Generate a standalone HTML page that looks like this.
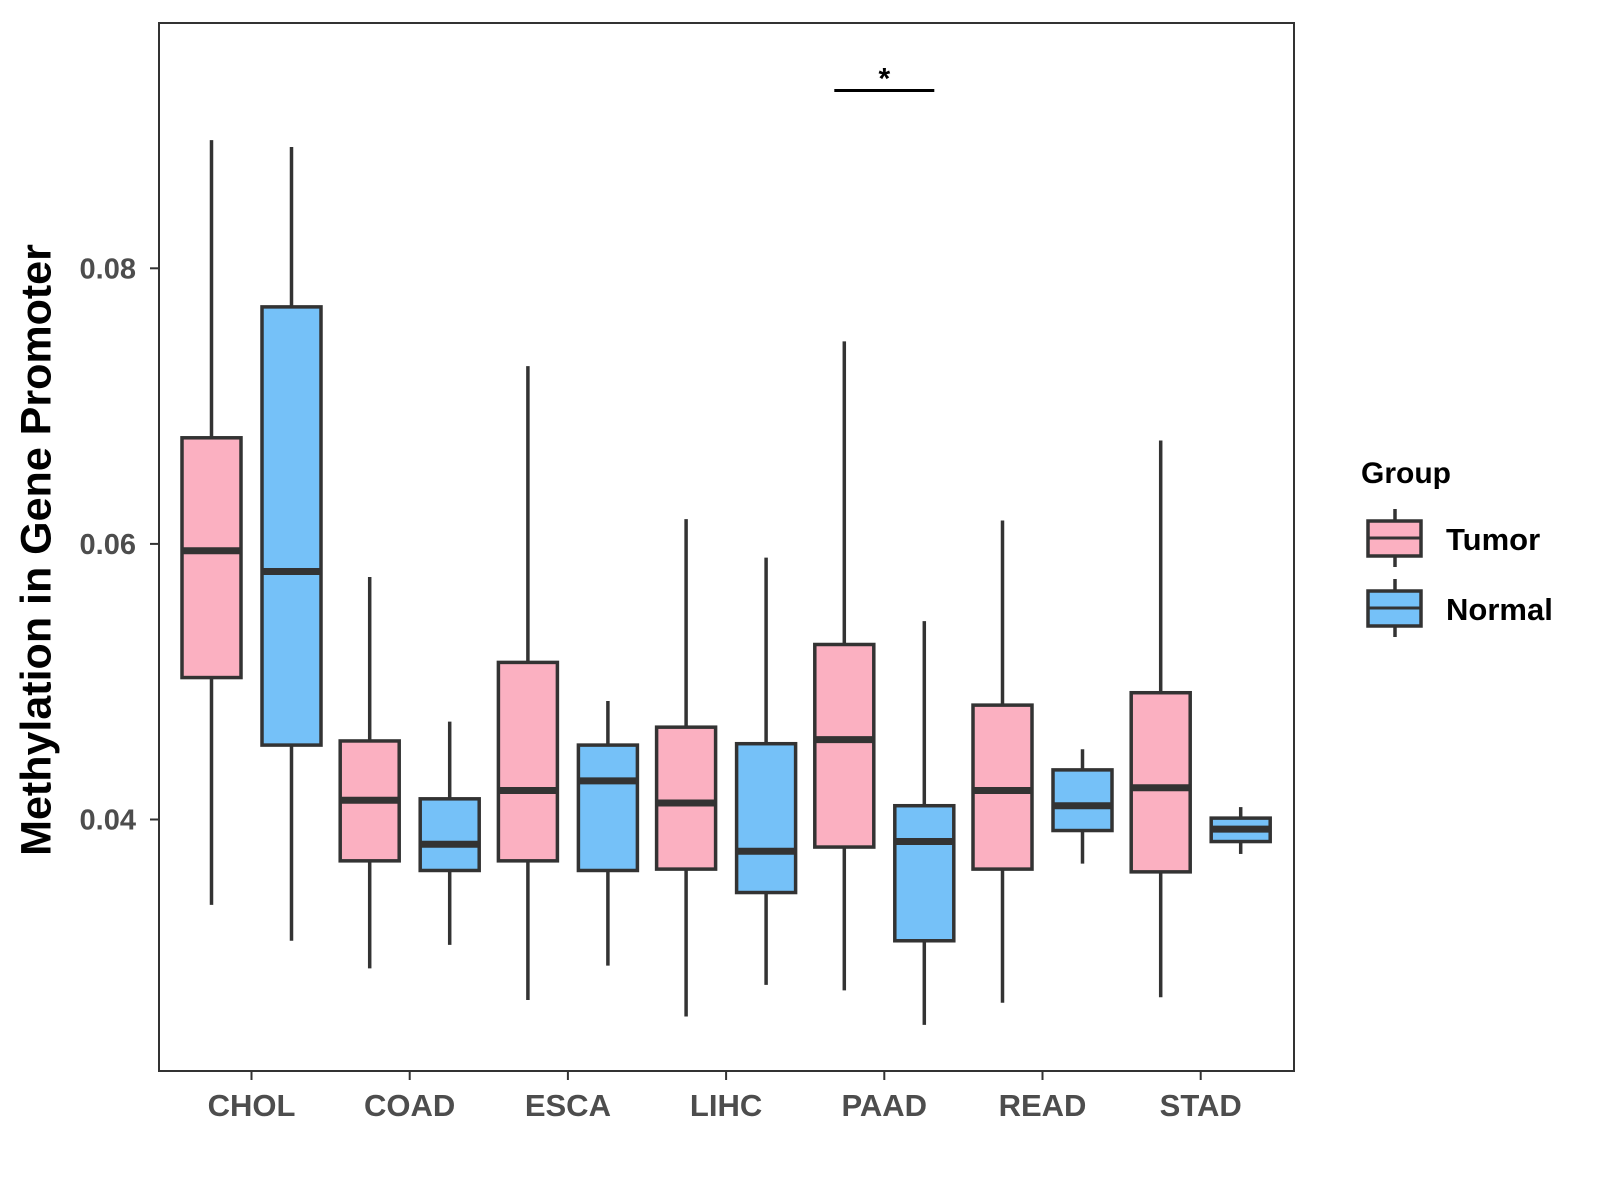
<!DOCTYPE html>
<html><head><meta charset="utf-8"><style>
body{margin:0;background:#fff}
svg{display:block;font-family:"Liberation Sans",Arial,sans-serif;font-weight:bold}
</style></head><body>
<svg id="chart" width="1600" height="1200" viewBox="0 0 1600 1200">
<rect x="0" y="0" width="1600" height="1200" fill="#fff"/>
<rect x="159" y="23" width="1135" height="1048" fill="none" stroke="#333" stroke-width="2"/>
<g id="yaxis"></g>
<g id="xaxis"></g>
<g id="boxes"></g>
<text x="39" y="550" font-size="43" fill="#000" text-anchor="middle" transform="rotate(-90 39 550)" dominant-baseline="middle">Methylation in Gene Promoter</text>
<g>
<line id="sigline" stroke="#000" stroke-width="3"/>
<text id="sigstar" font-size="30" text-anchor="middle" fill="#000">*</text>
</g>
<g transform="translate(-7,-1)">
<text x="1368" y="484" font-size="30" fill="#000">Group</text>
<g>
<line x1="1402" y1="510" x2="1402" y2="568" stroke="#333" stroke-width="3.5"/>
<rect x="1375" y="522" width="53" height="35" fill="#FBB0C1" stroke="#333" stroke-width="3.5"/>
<line x1="1375" y1="539" x2="1428" y2="539" stroke="#333" stroke-width="3"/>
<text x="1453" y="551" font-size="31" fill="#000">Tumor</text>
</g>
<g>
<line x1="1402" y1="580" x2="1402" y2="638" stroke="#333" stroke-width="3.5"/>
<rect x="1375" y="592" width="53" height="35" fill="#75C1F8" stroke="#333" stroke-width="3.5"/>
<line x1="1375" y1="609" x2="1428" y2="609" stroke="#333" stroke-width="3"/>
<text x="1453" y="621" font-size="31" fill="#000">Normal</text>
</g>
</g>
</svg>
<script>
const categories=["CHOL","COAD","ESCA","LIHC","PAAD","READ","STAD"];
const yTicks=[0.04,0.06,0.08];
const yTickLabels=["0.04","0.06","0.08"];
// [whiskerHigh, q3, median, q1, whiskerLow]
const tumorStats=[
[0.0893,0.0677,0.0595,0.0503,0.0338],
[0.0576,0.0457,0.0414,0.0370,0.0292],
[0.0729,0.0514,0.0421,0.0370,0.0269],
[0.0618,0.0467,0.0412,0.0364,0.0257],
[0.0747,0.0527,0.0458,0.0380,0.0276],
[0.0617,0.0483,0.0421,0.0364,0.0267],
[0.0675,0.0492,0.0423,0.0362,0.0271]];
const normalStats=[
[0.0888,0.0772,0.0580,0.0454,0.0312],
[0.0471,0.0415,0.0382,0.0363,0.0309],
[0.0486,0.0454,0.0428,0.0363,0.0294],
[0.0590,0.0455,0.0377,0.0347,0.0280],
[0.0544,0.0410,0.0384,0.0312,0.0251],
[0.0451,0.0436,0.0410,0.0392,0.0368],
[0.0409,0.0401,0.0393,0.0384,0.0375]];
const sigCategory="PAAD";
const sigLevel=0.0929;

const NS="http://www.w3.org/2000/svg";
function y(v){return 819.5-(v-0.04)*13780;}
function x(i){return 251.5+i*158.2;}
function mk(tag,attrs,parent){const e=document.createElementNS(NS,tag);for(const k in attrs)e.setAttribute(k,attrs[k]);parent.appendChild(e);return e;}
const ya=document.getElementById('yaxis');
yTicks.forEach((t,i)=>{
 const l=mk('line',{x1:150,x2:159,y1:y(t),y2:y(t),stroke:'#333','stroke-width':2},ya);
 
 
 const tx=mk('text',{x:136,y:y(t)+10,'font-size':29,fill:'#4d4d4d','text-anchor':'end'},ya);
 tx.textContent=yTickLabels[i];
 
 
});
const xa=document.getElementById('xaxis');
categories.forEach((c,i)=>{
 const l=mk('line',{x1:x(i),x2:x(i),y1:1071,y2:1080,stroke:'#333','stroke-width':2},xa);
 
 
 const tx=mk('text',{x:x(i),y:1116,'font-size':31,fill:'#4d4d4d','text-anchor':'middle'},xa);
 tx.textContent=c;
 
 
});
const bx=document.getElementById('boxes');
function drawBox(cx,s,fill,name){
 const g=mk('g',{},bx);
 
 
 const w=59;
 mk('line',{x1:cx,x2:cx,y1:y(s[0]),y2:y(s[4]),stroke:'#333','stroke-width':3.5},g);
 mk('rect',{x:cx-w/2,y:y(s[1]),width:w,height:y(s[3])-y(s[1]),fill:fill,stroke:'#333','stroke-width':3.5},g);
 mk('line',{x1:cx-w/2,x2:cx+w/2,y1:y(s[2]),y2:y(s[2]),stroke:'#333','stroke-width':7},g);
}
categories.forEach((c,i)=>{
 drawBox(x(i)-40,tumorStats[i],'#FBB0C1','box-tumor-'+c.toLowerCase());
 drawBox(x(i)+40,normalStats[i],'#75C1F8','box-normal-'+c.toLowerCase());
});
const si=categories.indexOf(sigCategory);
const sl=document.getElementById('sigline');
sl.setAttribute('x1',x(si)-50);sl.setAttribute('x2',x(si)+50);
sl.setAttribute('y1',y(sigLevel));sl.setAttribute('y2',y(sigLevel));


const st=document.getElementById('sigstar');
st.setAttribute('x',x(si));st.setAttribute('y',y(sigLevel)-2);


</script>
</body></html>
